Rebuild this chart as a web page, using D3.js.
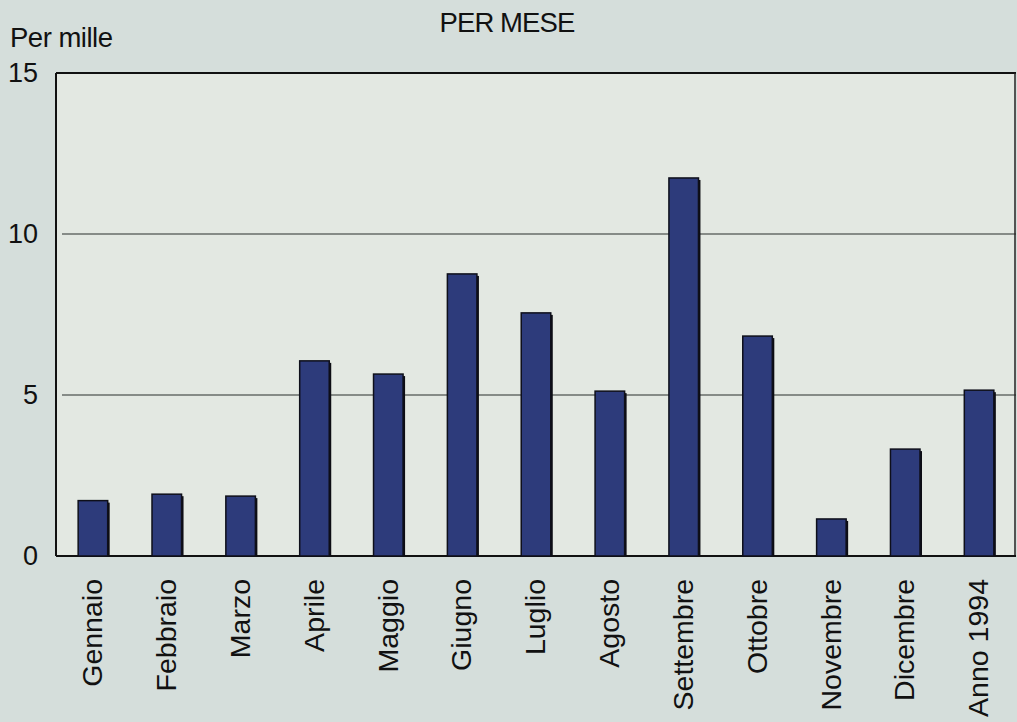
<!DOCTYPE html>
<html>
<head>
<meta charset="utf-8">
<script src="https://cdn.jsdelivr.net/npm/d3@7"></script>
<style>
  body { margin: 0; background: #d6dfdc; }
  svg { display: block; font-family: "Liberation Sans", Arial, sans-serif; }
</style>
</head>
<body>
<div id="chart"></div>
<script>
let months = ["Gennaio", "Febbraio", "Marzo", "Aprile", "Maggio", "Giugno", "Luglio",
  "Agosto", "Settembre", "Ottobre", "Novembre", "Dicembre", "Anno 1994"];
let values = [1.72, 1.92, 1.86, 6.06, 5.65, 8.76, 7.55, 5.12, 11.74, 6.83, 1.15, 3.32, 5.15];
let yTicks = [0, 5, 10, 15];

let width = 1017, height = 722;
let margin = {top: 73, right: 1, bottom: 166, left: 56};

let svg = d3.select("#chart").append("svg")
  .attr("width", width)
  .attr("height", height);

svg.append("rect")
  .attr("width", width)
  .attr("height", height)
  .attr("fill", "#d5dedb");

let x = d3.scaleBand()
  .domain(months)
  .range([margin.left, width - margin.right])
  .paddingInner(0.6)
  .paddingOuter(0.3);

let y = d3.scaleLinear()
  .domain([0, 15])
  .range([height - margin.bottom, margin.top]);

// plot area
svg.append("rect")
  .attr("x", margin.left)
  .attr("y", margin.top)
  .attr("width", width - margin.right - margin.left)
  .attr("height", y(0) - margin.top)
  .attr("fill", "#e3e8e2");

// gridlines
svg.append("g")
  .selectAll("line")
  .data(yTicks.filter(d => d > 0 && d < 15))
  .enter()
  .append("line")
  .attr("x1", margin.left + 6)
  .attr("x2", width - margin.right)
  .attr("y1", d => y(d))
  .attr("y2", d => y(d))
  .attr("stroke", "#676c68")
  .attr("stroke-width", 1.3);

// frame
svg.append("line")
  .attr("x1", margin.left).attr("x2", width - margin.right)
  .attr("y1", y(15)).attr("y2", y(15))
  .attr("stroke", "#111").attr("stroke-width", 2);
svg.append("line")
  .attr("x1", margin.left).attr("x2", margin.left)
  .attr("y1", y(15)).attr("y2", y(0))
  .attr("stroke", "#111").attr("stroke-width", 2);
svg.append("line")
  .attr("x1", width - 2).attr("x2", width - 2)
  .attr("y1", y(15)).attr("y2", y(0))
  .attr("stroke", "#222").attr("stroke-width", 1.5);
svg.append("line")
  .attr("x1", margin.left).attr("x2", width - margin.right)
  .attr("y1", y(0)).attr("y2", y(0))
  .attr("stroke", "#111").attr("stroke-width", 2);

// bar shadows
svg.append("g")
  .selectAll("rect")
  .data(values)
  .enter()
  .append("rect")
  .attr("x", (d, i) => x(months[i]) + 2)
  .attr("y", d => y(d) + 2)
  .attr("width", x.bandwidth())
  .attr("height", d => y(0) - y(d) - 2)
  .attr("fill", "#0d0d14");

// bars
svg.append("g")
  .selectAll("rect")
  .data(values)
  .enter()
  .append("rect")
  .attr("x", (d, i) => x(months[i]))
  .attr("y", d => y(d))
  .attr("width", x.bandwidth())
  .attr("height", d => y(0) - y(d))
  .attr("fill", "#2d3b7b")
  .attr("stroke", "#0e0f1a")
  .attr("stroke-width", 1.5);

// y tick labels
svg.append("g")
  .selectAll("text")
  .data(yTicks)
  .enter()
  .append("text")
  .attr("x", 38)
  .attr("y", d => y(d))
  .attr("dy", "0.35em")
  .attr("text-anchor", "end")
  .attr("font-size", 27)
  .attr("fill", "#111")
  .text(d => d);

// x labels
svg.append("g")
  .selectAll("text")
  .data(months)
  .enter()
  .append("text")
  .attr("transform", d => "translate(" + (x(d) + x.bandwidth() / 2 - 1) + ",579) rotate(-90)")
  .attr("dy", "0.36em")
  .attr("text-anchor", "end")
  .attr("font-size", 28.5)
  .attr("fill", "#111")
  .text(d => d);

svg.append("text")
  .attr("x", 10)
  .attr("y", 47)
  .attr("font-size", 27.5)
  .attr("letter-spacing", -0.5)
  .attr("fill", "#111")
  .text("Per mille");

svg.append("text")
  .attr("x", 507)
  .attr("y", 32)
  .attr("text-anchor", "middle")
  .attr("font-size", 27.5)
  .attr("letter-spacing", -0.9)
  .attr("fill", "#111")
  .text("PER MESE");
</script>
</body>
</html>
